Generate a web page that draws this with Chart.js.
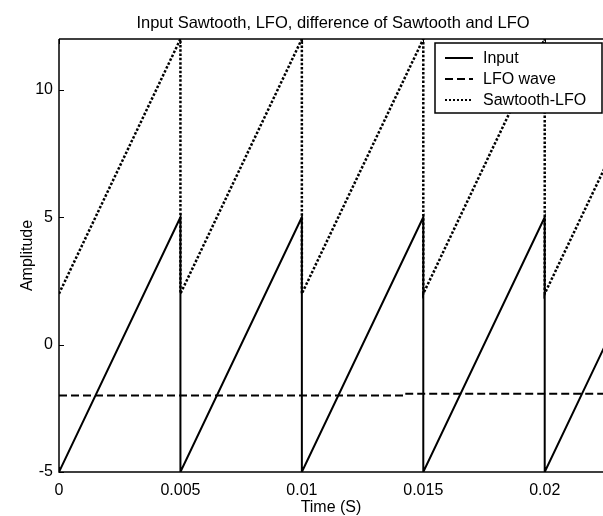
<!DOCTYPE html>
<html><head><meta charset="utf-8">
<script src="https://cdn.jsdelivr.net/npm/chart.js@4"></script>
<style>html,body{margin:0;padding:0;background:#fff}#wrap{width:603px;height:516px}</style>
</head><body><div id="wrap"><canvas id="c" width="603" height="516"></canvas></div>
<script>
const chartTitle = 'Input Sawtooth, LFO, difference of Sawtooth and LFO';
const xTitle = 'Time (S)';
const yTitle = 'Amplitude';
const seriesLabels = ['Input', 'LFO wave', 'Sawtooth-LFO'];
const inputTime = [0, 0.005, 0.005, 0.01, 0.01, 0.015, 0.015, 0.02, 0.02, 0.025];
const inputValues = [-5, 5, -5, 5, -5, 5, -5, 5, -5, 5];
const lfoTime = [0, 0.0143, 0.0143, 0.025];
const lfoValues = [-2, -2, -1.93, -1.93];
const diffTime = [0, 0.005, 0.005, 0.01, 0.01, 0.015, 0.015, 0.02, 0.02, 0.025];
const diffValues = [2, 12, 2, 12, 2, 12, 2, 12, 2, 12];
const xTicks = [0, 0.005, 0.01, 0.015, 0.02];
const yTicks = [-5, 0, 5, 10];
const xRange = [0, 0.0224];
const yRange = [-5, 12];

const FONT = '"Liberation Sans", Arial, Helvetica, sans-serif';
const pts = (t, v) => t.map((x, i) => ({x: x, y: v[i]}));
const dashes = [[], [8, 4], [2.5, 1.8]];
const widths = [2, 2, 2.5];

const frame = {
  id: 'frame',
  afterDatasetsDraw(chart) {
    const {ctx, chartArea: a, scales: {x, y}} = chart;
    ctx.save();
    // title, centred over the (wider, cropped) axes
    ctx.fillStyle = '#000';
    ctx.font = '16.5px ' + FONT;
    ctx.textAlign = 'center';
    ctx.textBaseline = 'middle';
    ctx.fillText(chartTitle, 333, 23);
    ctx.textAlign = 'left';
    ctx.strokeStyle = '#000';
    ctx.lineWidth = 1.5;
    ctx.beginPath();
    ctx.moveTo(a.left, a.top); ctx.lineTo(a.right, a.top);
    ctx.moveTo(a.left, a.top); ctx.lineTo(a.left, a.bottom);
    ctx.lineTo(a.right, a.bottom);
    ctx.stroke();
    ctx.lineWidth = 1;
    ctx.beginPath();
    xTicks.forEach(v => {
      const px = Math.round(x.getPixelForValue(v)) + 0.5;
      ctx.moveTo(px, a.bottom); ctx.lineTo(px, a.bottom - 5);
      ctx.moveTo(px, a.top); ctx.lineTo(px, a.top + 5);
    });
    yTicks.forEach(v => {
      const py = Math.round(y.getPixelForValue(v)) + 0.5;
      ctx.moveTo(a.left, py); ctx.lineTo(a.left + 5, py);
    });
    ctx.stroke();
    // legend
    const lx = 435, ly = 43, lw = 167, lh = 70;
    ctx.fillStyle = '#fff';
    ctx.fillRect(lx, ly, lw, lh);
    ctx.lineWidth = 1.5;
    ctx.strokeRect(lx, ly, lw, lh);
    ctx.font = '16px ' + FONT;
    ctx.textBaseline = 'middle';
    ctx.fillStyle = '#000';
    chart.data.datasets.forEach((ds, i) => {
      const yy = ly + 15 + i * 21;
      ctx.lineWidth = 2;
      ctx.setLineDash(i === 2 ? [2, 2] : (ds.borderDash || []));
      ctx.beginPath();
      ctx.moveTo(lx + 10, yy); ctx.lineTo(lx + 38, yy);
      ctx.stroke();
      ctx.setLineDash([]);
      ctx.fillText(ds.label, lx + 48, yy + 1);
    });
    ctx.restore();
  }
};

new Chart(document.getElementById('c'), {
  type: 'line',
  data: {
    datasets: [
      {label: seriesLabels[0], data: pts(inputTime, inputValues)},
      {label: seriesLabels[1], data: pts(lfoTime, lfoValues)},
      {label: seriesLabels[2], data: pts(diffTime, diffValues)}
    ].map((d, i) => Object.assign(d, {borderColor: '#000', borderWidth: widths[i], borderDash: dashes[i], pointRadius: 0, tension: 0, fill: false, clip: 0}))
  },
  options: {
    responsive: false,
    animation: false,
    devicePixelRatio: 1,
    layout: {padding: {top: 39}},
    plugins: {
      legend: {display: false},
      tooltip: {enabled: false},
      title: {display: false}
    },
    scales: {
      x: {
        type: 'linear', min: xRange[0], max: xRange[1],
        afterBuildTicks: s => { s.ticks = xTicks.map(v => ({value: v})); },
        afterFit: s => { s.height = 44; },
        grid: {display: false, drawTicks: false},
        border: {display: false},
        ticks: {color: '#000', font: {family: FONT, size: 16}, padding: 9, maxRotation: 0, autoSkip: false, callback: v => String(v)},
        title: {display: true, text: xTitle, color: '#000', font: {family: FONT, size: 16, lineHeight: 1.2}, padding: {top: 0, bottom: -1}}
      },
      y: {
        min: yRange[0], max: yRange[1],
        afterBuildTicks: s => { s.ticks = yTicks.map(v => ({value: v})); },
        afterFit: s => { s.width = 59; },
        grid: {display: false, drawTicks: false},
        border: {display: false},
        ticks: {color: '#000', font: {family: FONT, size: 16}, padding: 6, autoSkip: false, callback: v => String(v)},
        title: {display: true, text: yTitle, color: '#000', font: {family: FONT, size: 16, lineHeight: 1.2}, padding: {top: 18, bottom: 0}}
      }
    }
  },
  plugins: [frame]
});
</script>
</body></html>
